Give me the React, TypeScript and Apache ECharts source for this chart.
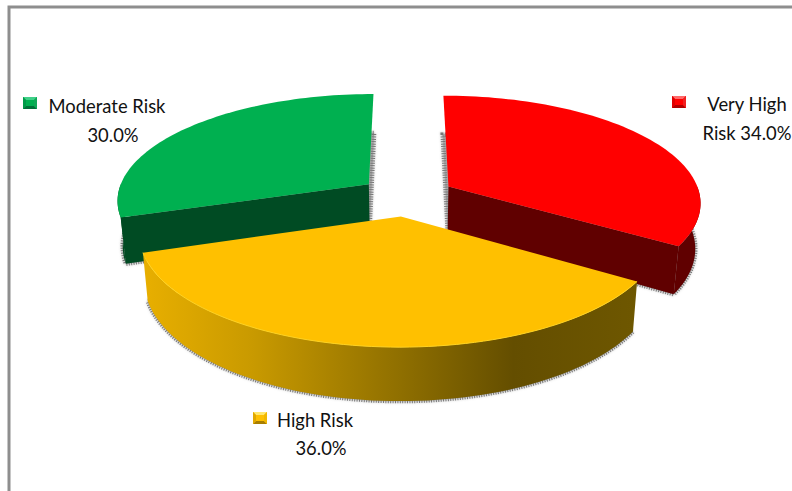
import React, { useEffect, useRef } from "react";
import * as echarts from "echarts";

// Risk distribution, clockwise from twelve o'clock
const categories = ["Very High Risk", "High Risk", "Moderate Risk"];
const values = [34.0, 36.0, 30.0];
const paintOrder = [2, 0, 1];

const topColors = ["#ff0000", "#ffc000", "#00b050"];
const wallColors = ["#600000", "#6b5400", "#004b23"];
const markerEdges = [
  ["#ff6a6a", "#b00000", "#e00000", "#f02020"],
  ["#ffe870", "#a87e00", "#e0a800", "#f0b800"],
  ["#40d088", "#007038", "#009a48", "#10a858"],
];

// Projection of the tilted, exploded disc
const CX = 407;
const CY = 196;
const RX = 252;
const RY = 106;
const PERSPECTIVE = 0.14;
const EXPLODE = 0.19;
const DEPTH = 45;
const BASE_SHRINK = 0.982;

type Pt = [number, number];

function project(x: number, y: number, lower: boolean): Pt {
  const s = 1 / (1 + PERSPECTIVE * y);
  const sx = RX * x * s * (lower ? BASE_SHRINK : 1);
  const sy = -RY * y * s + (lower ? DEPTH * s : 0);
  return [CX + sx, CY + sy];
}

function sliceAngles(index: number): [number, number] {
  const total = values.reduce((a, b) => a + b, 0);
  const before = values.slice(0, index).reduce((a, b) => a + b, 0);
  return [(before / total) * Math.PI * 2, ((before + values[index]) / total) * Math.PI * 2];
}

function arcPoints(index: number, from: number, to: number, lower: boolean): Pt[] {
  const [a0, a1] = sliceAngles(index);
  const mid = (a0 + a1) / 2;
  const ox = EXPLODE * Math.sin(mid);
  const oy = EXPLODE * Math.cos(mid);
  const pts: Pt[] = [];
  const steps = 72;
  for (let i = 0; i <= steps; i++) {
    const t = from + ((to - from) * i) / steps;
    pts.push(project(ox + Math.sin(t), oy + Math.cos(t), lower));
  }
  return pts;
}

function apexPoint(index: number, lower: boolean): Pt {
  const [a0, a1] = sliceAngles(index);
  const mid = (a0 + a1) / 2;
  return project(EXPLODE * Math.sin(mid), EXPLODE * Math.cos(mid), lower);
}

// Rim shading of the front slice runs across the screen
const rimGradient = () =>
  new echarts.graphic.LinearGradient(0, 0, 1, 0, [
    { offset: 0, color: "#e8af00" },
    { offset: 0.22, color: "#c99a00" },
    { offset: 0.5, color: "#937200" },
    { offset: 0.75, color: "#644e00" },
    { offset: 1, color: "#6e5700" },
  ]);

function renderSlice(_params: any, api: any) {
  const index = api.value(0);
  const [a0, a1] = sliceAngles(index);
  const topArc = arcPoints(index, a0, a1, false);
  const baseArc = arcPoints(index, a0, a1, true);
  const apexTop = apexPoint(index, false);
  const apexBase = apexPoint(index, true);
  const wall = wallColors[index];
  const poly = (points: Pt[], style: any) => ({ type: "polygon", shape: { points }, style });

  // Only the near half of the rim can be seen
  const rimFrom = Math.max(a0, Math.PI / 2);
  const rimTo = Math.min(a1, (Math.PI * 3) / 2);
  const rimTop = arcPoints(index, rimFrom, rimTo, false);
  const rimBase = arcPoints(index, rimFrom, rimTo, true);

  const children: any[] = [
    // Stippled contact shadow under the solid
    poly([apexBase, ...baseArc], {
      fill: "#a8a8a8",
      stroke: "#777777",
      lineWidth: 4.5,
      lineDash: [1, 1.4],
      shadowBlur: 2,
      shadowColor: "rgba(120,120,120,0.6)",
    }),
  ];
  // Cut faces are only drawn when they turn towards the viewer
  if (Math.cos(a0 - Math.PI / 2) < -1e-6) {
    children.push(poly([apexTop, topArc[0], baseArc[0], apexBase], { fill: wall }));
  }
  if (Math.cos(a1 + Math.PI / 2) < -1e-6) {
    children.push(poly([apexTop, topArc[topArc.length - 1], baseArc[baseArc.length - 1], apexBase], { fill: wall }));
  }
  children.push(
    poly([...rimTop, ...rimBase.slice().reverse()], {
      fill: index === 1 ? rimGradient() : wall,
    }),
    poly([apexTop, ...topArc], { fill: topColors[index] })
  );
  if (index === 1) {
    children.push({
      type: "polyline",
      shape: { points: topArc },
      style: { fill: "none", stroke: "#ffd21f", lineWidth: 1 },
    });
  }
  return { type: "group", children };
}

function marker(index: number, x: number, y: number) {
  const w = 14;
  const h = 12;
  const d = 3;
  const c = markerEdges[index];
  const face = (points: Pt[], fill: string) => ({ type: "polygon", shape: { points }, style: { fill } });
  return {
    type: "group",
    x,
    y,
    silent: true,
    children: [
      { type: "rect", shape: { x: 0, y: 0, width: w, height: h }, style: { fill: topColors[index] } },
      face([[0, 0], [w, 0], [w - d, d], [d, d]], c[0]),
      face([[0, h], [w, h], [w - d, h - d], [d, h - d]], c[1]),
      face([[0, 0], [0, h], [d, h - d], [d, d]], c[2]),
      face([[w, 0], [w, h], [w - d, h - d], [w - d, d]], c[3]),
    ],
  };
}

function label(text: string, x: number, y: number) {
  return {
    type: "text",
    x,
    y,
    silent: true,
    style: {
      text,
      fill: "#111111",
      font: '18.4px Lato, "Open Sans", sans-serif',
      textAlign: "center",
      textVerticalAlign: "middle",
    },
  };
}

const pct = (i: number) => `${values[i].toFixed(1)}%`;

export default function App() {
  const ref = useRef<HTMLDivElement>(null);

  useEffect(() => {
    document.body.style.margin = "0";
    const chart = echarts.init(ref.current!, null, { renderer: "svg" });
    chart.setOption({
      animation: false,
      backgroundColor: "#ffffff",
      series: [
        {
          type: "custom",
          coordinateSystem: "none",
          renderItem: renderSlice,
          silent: true,
          data: paintOrder.map((i) => ({ name: categories[i], value: [i, values[i]] })),
        },
      ],
      graphic: [
        { type: "rect", shape: { x: 9, y: 7, width: 800, height: 500 }, style: { fill: "none", stroke: "#8e8e8e", lineWidth: 3 }, silent: true },
        marker(0, 672, 96),
        marker(1, 253, 412),
        marker(2, 23, 97),
        label("Very High", 747, 104),
        label(`Risk ${pct(0)}`, 747, 133),
        label(categories[1], 315, 420),
        label(pct(1), 321, 448),
        label(categories[2], 107, 106),
        label(pct(2), 113, 135),
      ],
    });
    return () => chart.dispose();
  }, []);

  return <div ref={ref} style={{ width: 792, height: 491 }} />;
}
